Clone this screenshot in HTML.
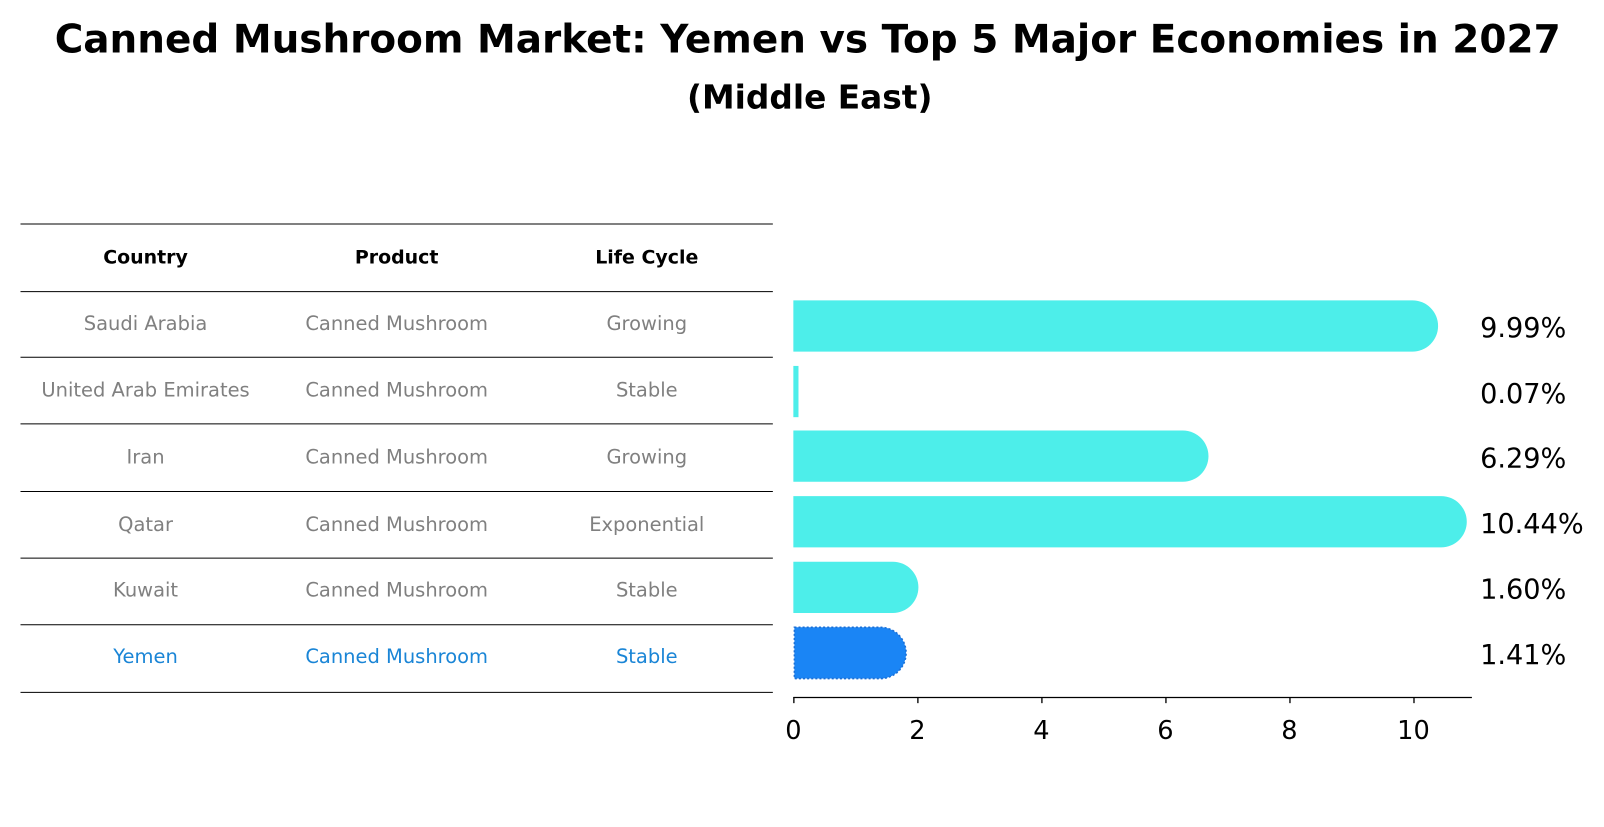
<!DOCTYPE html>
<html><head><meta charset="utf-8"><style>
body{margin:0;background:#fff;font-family:"DejaVu Sans","Liberation Sans",sans-serif;}
</style></head><body>
<svg width="1604" height="823" xmlns="http://www.w3.org/2000/svg" font-family="DejaVu Sans, Liberation Sans, sans-serif">
<rect width="1604" height="823" fill="#fff"/>
<g transform="scale(1.025)">
<text x="788" y="51" text-anchor="middle" font-size="38" font-weight="bold">Canned Mushroom Market: Yemen vs Top 5 Major Economies in 2027</text>
<text x="790" y="106" text-anchor="middle" font-size="32" font-weight="bold">(Middle East)</text>
<g stroke="#000" stroke-width="1">
<line x1="20" x2="754" y1="218.5" y2="218.5"/>
<line x1="20" x2="754" y1="284.5" y2="284.5"/>
<line x1="20" x2="754" y1="348.5" y2="348.5"/>
<line x1="20" x2="754" y1="413.5" y2="413.5"/>
<line x1="20" x2="754" y1="479.5" y2="479.5"/>
<line x1="20" x2="754" y1="544.5" y2="544.5"/>
<line x1="20" x2="754" y1="609.5" y2="609.5"/>
<line x1="20" x2="754" y1="675.5" y2="675.5"/>
</g>
<g font-size="18.5" font-weight="bold" text-anchor="middle">
<text x="142" y="257">Country</text><text x="387" y="257">Product</text><text x="631" y="257">Life Cycle</text>
</g>
<g font-size="19" text-anchor="middle" fill="#808080">
<text x="142" y="322">Saudi Arabia</text><text x="387" y="322">Canned Mushroom</text><text x="631" y="322">Growing</text>
<text x="142" y="387">United Arab Emirates</text><text x="387" y="387">Canned Mushroom</text><text x="631" y="387">Stable</text>
<text x="142" y="452">Iran</text><text x="387" y="452">Canned Mushroom</text><text x="631" y="452">Growing</text>
<text x="142" y="518">Qatar</text><text x="387" y="518">Canned Mushroom</text><text x="631" y="518">Exponential</text>
<text x="142" y="582">Kuwait</text><text x="387" y="582">Canned Mushroom</text><text x="631" y="582">Stable</text>
</g>
<g font-size="19" text-anchor="middle" fill="#1a85d6">
<text x="142" y="647">Yemen</text><text x="387" y="647">Canned Mushroom</text><text x="631" y="647">Stable</text>
</g>
<g fill="#4deeea">
<path d="M774 293 H1378 A25 25 0 0 1 1378 343 H774 Z"/>
<rect x="774" y="357" width="5" height="50"/>
<path d="M774 420 H1154 A25 25 0 0 1 1154 470 H774 Z"/>
<path d="M774 484 H1406 A25 25 0 0 1 1406 534 H774 Z"/>
<path d="M774 548 H871 A25 25 0 0 1 871 598 H774 Z"/>
</g>
<path d="M775 612 H859 A25 25 0 0 1 859 662 H775 Z" fill="#1a85f5" stroke="#1a6fd6" stroke-width="1.5" stroke-dasharray="2,2"/>
<g font-size="26.5">
<text x="1444" y="329">9.99%</text><text x="1444" y="393">0.07%</text><text x="1444" y="456">6.29%</text>
<text x="1444" y="520">10.44%</text><text x="1444" y="584">1.60%</text><text x="1444" y="648">1.41%</text>
</g>
<line x1="774" x2="1436" y1="680.5" y2="680.5" stroke="#000" stroke-width="1.3"/>
<g stroke="#000" stroke-width="1.3">
<line x1="774.5" x2="774.5" y1="680" y2="686"/><line x1="895.5" x2="895.5" y1="680" y2="686"/>
<line x1="1016.5" x2="1016.5" y1="680" y2="686"/><line x1="1137.5" x2="1137.5" y1="680" y2="686"/>
<line x1="1258.5" x2="1258.5" y1="680" y2="686"/><line x1="1379.5" x2="1379.5" y1="680" y2="686"/>
</g>
<g font-size="25" text-anchor="middle">
<text x="774" y="721">0</text><text x="895" y="721">2</text><text x="1016" y="721">4</text>
<text x="1137" y="721">6</text><text x="1258" y="721">8</text><text x="1379" y="721">10</text>
</g>
</g>
</svg>
</body></html>
